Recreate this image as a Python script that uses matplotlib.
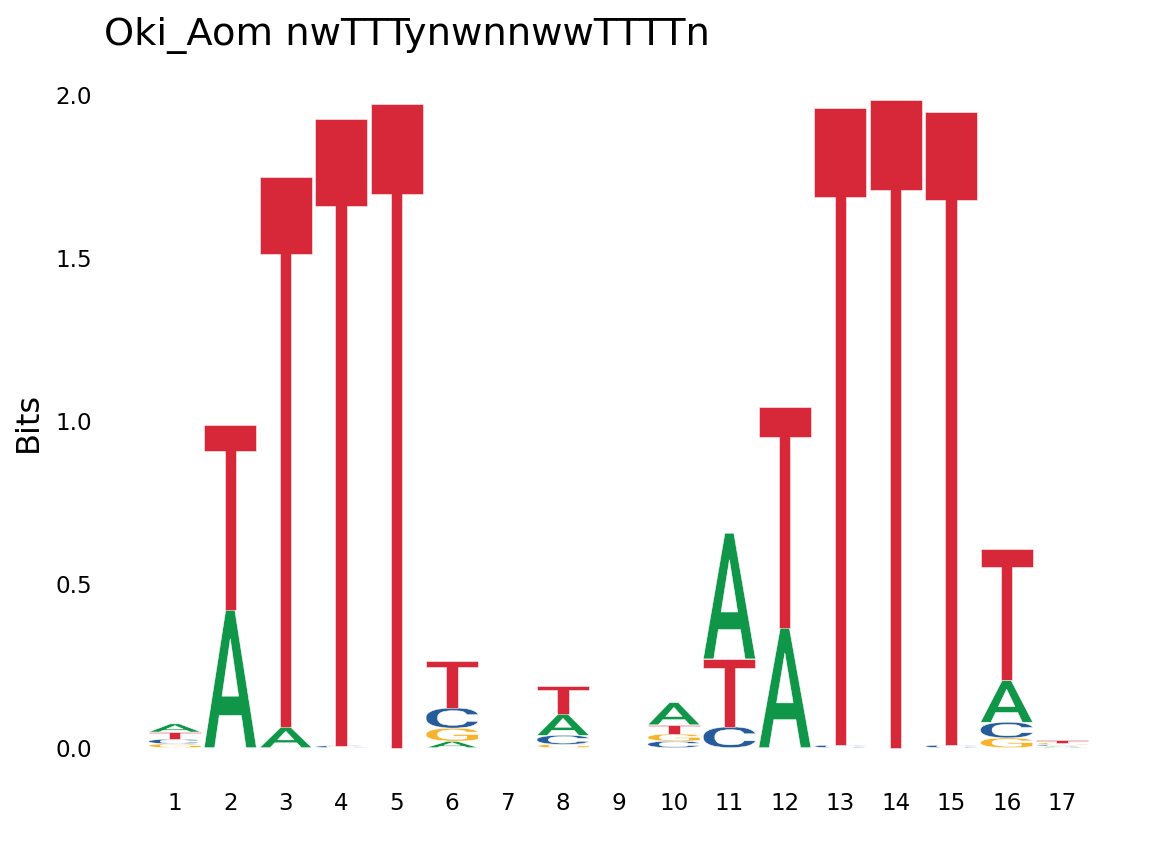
import matplotlib
matplotlib.use("Agg")
import matplotlib.pyplot as plt
from matplotlib.textpath import TextPath
from matplotlib.font_manager import FontProperties
from matplotlib.patches import PathPatch
from matplotlib.transforms import Affine2D

positions = list(range(1, 18))
bits_A = [0.025, 0.423, 0.064, 0.000, 0.000, 0.020, 0.0, 0.066, 0.0, 0.068, 0.385, 0.368, 0.000, 0.000, 0.000, 0.128, 0.005]
bits_C = [0.014, 0.000, 0.000, 0.006, 0.000, 0.062, 0.0, 0.028, 0.0, 0.020, 0.064, 0.000, 0.008, 0.000, 0.008, 0.048, 0.005]
bits_G = [0.012, 0.000, 0.000, 0.000, 0.000, 0.040, 0.0, 0.010, 0.0, 0.022, 0.000, 0.000, 0.000, 0.000, 0.000, 0.030, 0.005]
bits_T = [0.022, 0.566, 1.684, 1.920, 1.972, 0.145, 0.0, 0.086, 0.0, 0.028, 0.208, 0.677, 1.952, 1.985, 1.940, 0.404, 0.008]

colors = {"A": "#109648", "C": "#255C99", "G": "#F7B32B", "T": "#D62839"}
title = "Oki_Aom nwTTTynwnnwwTTTTn"

fig = plt.figure(figsize=(8, 865 / 144), dpi=144)
ax = fig.add_axes([100 / 1152, 1 - 780 / 865, 1037 / 1152, 711 / 865])

fp = FontProperties(family="Roboto", weight=500)
glyphs = {}
for L in "ACGT":
    p = TextPath((0, 0), L, size=1, prop=fp)
    ext = p.get_extents()
    glyphs[L] = (p, ext)

width = 0.94
data = {"A": bits_A, "C": bits_C, "G": bits_G, "T": bits_T}
for i, pos in enumerate(positions):
    items = sorted([(data[L][i], L) for L in "ACGT"])
    y0 = 0.0
    for h, L in items:
        if h <= 0:
            continue
        p, ext = glyphs[L]
        tr = (Affine2D().translate(-ext.x0, -ext.y0)
              .scale(width / ext.width, h / ext.height)
              .translate(pos - width / 2, y0))
        patch = PathPatch(tr.transform_path(p), facecolor=colors[L],
                          edgecolor="white", lw=0.25)
        ax.add_patch(patch)
        y0 += h

ax.set_xlim(-0.35, 18.35)
ax.set_ylim(-0.099, 2.079)
ax.set_xticks(positions)
ax.set_xticklabels([str(p) for p in positions])
ax.set_yticks([0.0, 0.5, 1.0, 1.5, 2.0])
ax.set_yticklabels(["0.0", "0.5", "1.0", "1.5", "2.0"])
ax.tick_params(axis="both", length=0, labelsize=11.5, colors="black")
ax.tick_params(axis="y", pad=4)
ax.tick_params(axis="x", pad=6)
for s in ax.spines.values():
    s.set_visible(False)

fig.text(28 / 1152, 1 - 422 / 865, "Bits", rotation=90, ha="center", va="center", fontsize=16)
fig.text(104 / 1152, 1 - 45 / 865, title, ha="left", va="baseline", fontsize=19.2)

fig.savefig("out.png", dpi=144)
